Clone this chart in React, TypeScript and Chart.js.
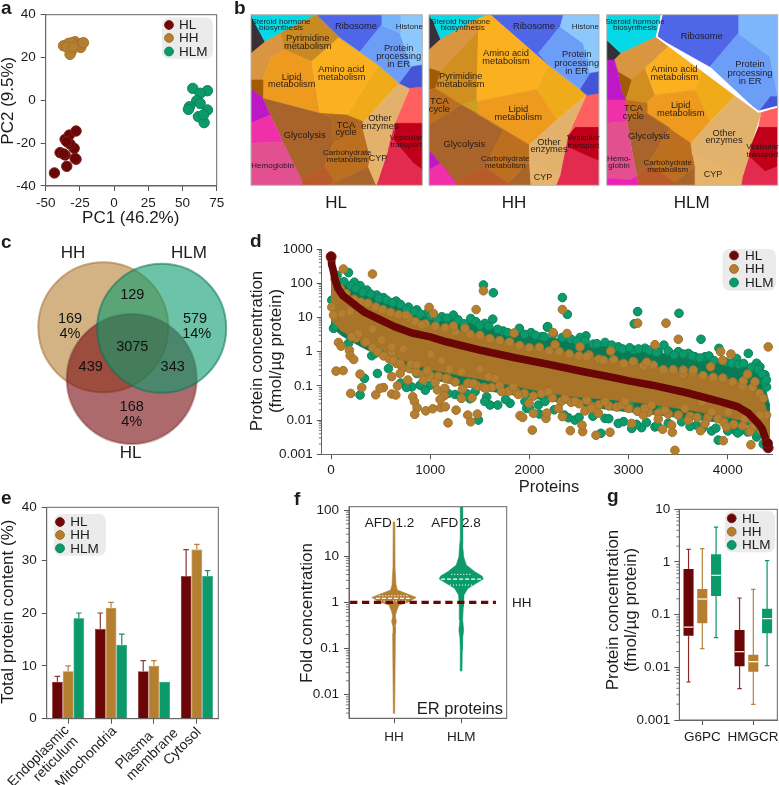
import React, { useEffect, useRef } from "react";
import { Chart, registerables } from "chart.js";

Chart.register(...registerables);
Chart.defaults.font.family = '"Liberation Sans", Arial, sans-serif';

const PAGE_W = 779;
const PAGE_H = 785;
const HL = "#6b0606";
const HH = "#b47f30";
const HLM = "#0a9a6b";
const HL_EDGE = "#7e1c1c";
const HH_EDGE = "#a3722b";
const HLM_EDGE = "#0b8259";
const seriesNames = ["HL", "HH", "HLM"];
const seriesFill = [HL, HH, HLM];
const seriesEdge = [HL_EDGE, HH_EDGE, HLM_EDGE];

// ---------- a: PCA ----------
const pcaHL = [[-43.6,-33.9],[-34.6,-30.8],[-27.8,-27.5],[-28.5,-27.1],[-35.8,-25.5],[-39.5,-24.4],[-37,-25],[-29.2,-22.4],[-32.2,-20.4],[-35.8,-18.2],[-32.7,-16.2],[-27.8,-14.3],[-34.6,-19.3]];
const pcaHH = [[-37,25.5],[-33.4,26.6],[-28.5,27.4],[-23.6,26.6],[-31.4,22.7],[-32.2,21.5],[-24.4,24.7],[-27.3,25.8],[-30.9,26.9],[-34.6,25],[-22.4,26.9],[-29.7,25]];
const pcaHLM = [[57.5,5.6],[68.2,4.5],[62.9,3.3],[60.4,-0.2],[62.9,-1.4],[55.1,-3],[54.3,-4.2],[68.2,-4.5],[61.6,-7.6],[65.8,-10.4],[65.3,-6.8]];
const pcaXTicks = [-50, -25, 0, 25, 50, 75];
const pcaYTicks = [-40, -20, 0, 20, 40];

// ---------- b: proteomaps ----------
const hlCellColors = ["#3a3038","#06d9e6","#d9953f","#c98a22","#ee9a1f","#fbb01f","#f0ab1a","#a35a05","#a8642a","#b0691e","#bc6f1e","#a8642a","#b85a2a","#e2b26c","#e5b36a","#bd18c5","#ef30a8","#e2508f","#4f66e8","#6c9ef8","#8cc8fb","#4455d8","#73b4fa","#ff5f5f","#c00018","#e32a4f"];
const hlCellPoints = [
  [[33,44],[33,160],[75,125],[40,60]],
  [[33,44],[230,44],[120,100],[75,125],[40,60]],
  [[75,125],[120,100],[135,150],[95,170],[68,240],[33,240],[33,160]],
  [[120,100],[230,44],[298,112],[215,185],[135,150]],
  [[95,170],[135,150],[215,185],[240,340],[70,295],[68,240]],
  [[215,185],[298,112],[415,195],[320,345],[240,340]],
  [[415,195],[478,250],[370,365],[320,345]],
  [[33,240],[68,240],[68,295],[33,265]],
  [[68,295],[240,340],[275,350],[280,430],[255,500],[185,540],[130,430]],
  [[240,340],[320,345],[370,365],[368,385],[280,430],[275,350]],
  [[280,430],[368,385],[390,470],[385,500],[285,548],[255,500]],
  [[285,548],[385,500],[408,556],[265,556]],
  [[185,540],[255,500],[285,548],[265,556],[185,556]],
  [[478,250],[510,265],[465,370],[445,450],[390,470],[368,380],[370,365]],
  [[390,470],[445,450],[410,556],[385,500]],
  [[33,240],[33,265],[68,295],[91,345],[33,370]],
  [[33,370],[91,345],[128,425],[33,430]],
  [[33,430],[128,425],[185,540],[185,556],[33,556]],
  [[230,44],[425,44],[425,75],[360,155],[298,112]],
  [[360,155],[425,75],[480,100],[515,200],[478,250],[415,195],[298,112]],
  [[480,44],[547,44],[547,200],[515,200],[480,100]],
  [[515,200],[547,195],[547,262],[510,265],[478,250]],
  [[425,44],[480,44],[480,100],[425,75]],
  [[510,265],[547,262],[547,370],[465,370]],
  [[465,370],[547,370],[547,510],[520,490],[460,420]],
  [[445,450],[465,370],[460,420],[520,490],[547,510],[547,556],[410,556]],
];
const hhCellColors = ["#3a3038","#06d9e6","#d9953f","#d18f20","#a35a05","#fbb01f","#f0ab1a","#ee9a1f","#bc6f1e","#c9a020","#a8642a","#bc6f1e","#a8642a","#b85a2a","#bd18c5","#ef30a8","#e2b26c","#e5b36a","#e32a4f","#c00018","#ff5f5f","#4f66e8","#6c9ef8","#8cc8fb","#4455d8"];
const hhCellPoints = [
  [[27,44],[27,150],[62,118],[40,65]],
  [[27,44],[212,44],[175,55],[62,118],[40,65]],
  [[27,150],[62,118],[175,55],[175,100],[60,215],[27,205]],
  [[60,215],[175,95],[170,300],[125,315],[45,265],[52,225]],
  [[27,205],[60,215],[45,265],[27,270]],
  [[175,55],[212,44],[385,195],[350,268],[170,305]],
  [[385,195],[500,285],[410,360],[350,268]],
  [[170,305],[350,268],[410,360],[328,435],[170,340]],
  [[27,270],[45,265],[125,315],[27,375]],
  [[125,315],[170,300],[170,340],[150,335]],
  [[27,375],[125,315],[250,390],[195,500],[105,545],[27,450]],
  [[125,315],[170,340],[328,435],[328,485],[265,550],[195,500],[250,390]],
  [[265,550],[328,485],[332,556],[265,556]],
  [[105,545],[195,500],[265,550],[265,556],[105,556]],
  [[27,450],[105,545],[62,490],[27,510]],
  [[27,510],[62,490],[105,545],[105,556],[27,556]],
  [[500,285],[445,405],[420,530],[328,490],[328,435],[410,360]],
  [[328,490],[420,530],[410,556],[332,556]],
  [[445,405],[537,470],[537,556],[410,556],[420,530]],
  [[465,380],[537,380],[537,480],[510,470],[445,440],[445,405]],
  [[500,285],[537,280],[537,380],[465,380],[445,405]],
  [[212,44],[430,44],[420,80],[355,160],[385,195]],
  [[355,160],[420,80],[490,130],[510,220],[480,268],[385,195]],
  [[430,44],[537,44],[537,215],[510,220],[490,130],[420,80]],
  [[510,220],[537,215],[537,280],[500,285],[480,268]],
];
const hlmCellColors = ["#333036","#06d9e6","#d9953f","#a35a05","#d18f20","#fbb01f","#f0ab1a","#ee9a1f","#bc6f1e","#a8642a","#bc6f1e","#a8642a","#b85a2a","#bd18c5","#ef30a8","#e2508f","#ee20b5","#e2b26c","#e5b36a","#c00018","#e32a4f","#ff5f5f","#4f66e8","#6c9ef8","#7db6fa","#4455d8"];
const hlmCellPoints = [
  [[35,120],[78,160],[58,180],[35,180]],
  [[35,44],[200,44],[185,110],[78,160],[35,120]],
  [[58,180],[78,160],[185,110],[220,140],[150,205],[110,240],[68,215]],
  [[68,215],[110,240],[92,300],[80,275]],
  [[110,240],[150,205],[180,285],[155,310],[92,300]],
  [[150,205],[220,140],[320,215],[300,270],[180,285]],
  [[220,140],[185,110],[420,288],[345,365],[300,270],[320,215]],
  [[180,285],[300,270],[345,365],[288,430],[155,340],[155,310]],
  [[92,300],[155,310],[155,340],[95,365]],
  [[95,365],[155,340],[225,385],[160,490],[125,530]],
  [[155,340],[288,430],[292,460],[300,500],[240,548],[160,490],[225,385]],
  [[240,548],[300,500],[302,556],[240,556]],
  [[125,530],[160,490],[240,548],[240,556],[130,556]],
  [[35,180],[58,180],[68,215],[80,275],[92,300],[78,300],[35,300]],
  [[35,300],[78,300],[92,300],[95,365],[35,370]],
  [[35,370],[95,365],[125,530],[105,540],[35,535]],
  [[35,535],[105,540],[125,530],[130,556],[35,556]],
  [[420,288],[498,338],[470,430],[462,470],[445,525],[292,465],[288,430],[345,365]],
  [[292,460],[445,525],[440,556],[302,556],[300,500]],
  [[490,380],[548,380],[548,500],[510,515],[462,470],[470,430]],
  [[462,470],[510,515],[548,500],[548,556],[440,556],[445,525]],
  [[498,338],[548,320],[548,380],[490,380]],
  [[200,44],[430,44],[430,100],[345,200],[185,110]],
  [[345,200],[430,100],[525,170],[548,290],[525,290],[490,335]],
  [[430,44],[548,44],[548,290],[525,170],[430,100]],
  [[525,290],[548,290],[548,320],[490,335]],
];
const hlmDivide = [[200,44],[185,110],[490,335],[548,320]];
const hlLabels: [string, number, number, number][] = [
  ["Steroid hormone",123,65,8],["biosynthesis",123,84,8],["Pyrimidine",203,116,9.3],["metabolism",203,139,9.3],["Ribosome",348,80,9.3],["Histone",508,80,8],
  ["Protein",476,145,9.3],["processing",476,170,9.3],["in ER",476,194,9.3],["Amino acid",304,209,9.3],["metabolism",305,232,9.3],["Lipid",155,232,9.3],["metabolism",155,254,9.3],
  ["Other",420,356,9.3],["enzymes",420,379,9.3],["TCA",318,376,9.3],["cycle",318,398,9.3],["Glycolysis",194,405,9.3],["Vesicular",498,412,8],["transport",498,433,8],
  ["Carbohydrate",322,458,8],["metabolism",322,479,8],["CYP",414,477,9],["Hemoglobin",98,496,8],
];
const hhLabels: [string, number, number, number][] = [
  ["Steroid hormone",122,65,8],["biosynthesis",128,84,8],["Ribosome",342,80,9.3],["Histone",496,80,8],["Protein",470,164,9.3],["processing",470,189,9.3],["in ER",470,213,9.3],
  ["Amino acid",258,161,9.3],["metabolism",258,184,9.3],["Pyrimidine",122,229,9.3],["metabolism",122,252,9.3],["TCA",58,305,9.3],["cycle",58,328,9.3],["Lipid",295,329,9.3],["metabolism",295,351,9.3],
  ["Glycolysis",133,433,9.3],["Other",387,426,9.3],["enzymes",387,449,9.3],["Vesicular",490,414,8],["transport",490,436,8],["Carbohydrate",256,475,8],["metabolism",256,497,8],["CYP",369,533,9],
];
const hlmLabels: [string, number, number, number][] = [
  ["Steroid hormone",120,65,8],["biosynthesis",120,84,8],["Ribosome",320,110,9.3],["Protein",465,194,9.3],["processing",465,219,9.3],["in ER",465,244,9.3],["Amino acid",238,208,9.3],["metabolism",238,231,9.3],
  ["Lipid",257,316,9.3],["metabolism",257,339,9.3],["TCA",115,325,9.3],["cycle",115,348,9.3],["Glycolysis",162,410,9.3],["Other",387,399,9.3],["enzymes",387,422,9.3],["Vesicular",502,441,8],["transport",502,463,8],
  ["Carbohydrate",218,487,8],["metabolism",218,508,8],["CYP",354,524,9],["Hemo-",72,476,8],["globin",72,497,8],
];

// ---------- c: Venn ----------
const vennHH = { x: 36.65, y: 61.35, r: 65 };
const vennHLM = { x: 65.85, y: 60.85, r: 64.5 };
const vennHL = { x: 50.85, y: 35.5, r: 65 };

// ---------- d: protein concentration ----------
const dXTicks = [0, 1000, 2000, 3000, 4000];
const dYTicks = [0.001, 0.01, 0.1, 1, 10, 100, 1000];
const hlRank = [0,3,8,17,40,70,120,225,340,468,640,814,1000,1160,1507,1854,2200,2547,2893,3000,3240,3586,3933,4100,4210,4307,4348,4391,4407];
const hlConc = [597,500,350,270,130,70,43,25,14,9.3,5.4,3.5,2.7,1.94,1.1,0.66,0.42,0.257,0.164,0.14,0.105,0.063,0.034,0.0245,0.0158,0.008,0.0055,0.0023,0.00155];
const hlEnds = [[0,597],[4407,0.00155],[4400,0.0021]];
const bandRank = [0,50,100,200,300,500,700,1000,1300,1600,2000,2400,2800,3200,3600,4000,4200,4350,4420];
const hlmBandTop = [300,200,130,85,60,36,24,11.5,8,5.2,3.2,2.1,1.4,1,0.75,0.5,0.38,0.18,0.03];
const hlmBandBottom = [5,4,3,2,1.4,0.7,0.3,0.16,0.1,0.07,0.045,0.03,0.02,0.015,0.011,0.008,0.007,0.005,0.003];
const hhBandTop = [200,110,70,38,28,18,12,6,4,2.6,1.4,0.9,0.6,0.4,0.23,0.16,0.1,0.05,0.01];
const hhBandBottom = [8,6,4,2.8,2.2,1.2,0.6,0.3,0.2,0.14,0.08,0.05,0.04,0.03,0.02,0.012,0.009,0.006,0.003];
const hhSpots = [[124,260],[417,186],[1536,60],[1462,17],[988,19.7],[1032,13],[756,11.5],[1233,5.6],[1350,4.8],[914,6],[1845,3.5],[7,20],[24,11.7],[108,13],[192,14.8],[74,1.86],[101,1.45],[185,1.1],[192,0.76],[228,0.59],[50,0.27],[121,0.28],[292,0.22],[309,0.089],[198,0.06],[450,0.055],[528,0.089],[611,0.058],[652,0.054],[669,0.1],[494,0.085],[611,0.186],[696,0.23],[773,0.148],[971,0.28],[931,0.148],[1048,0.126],[1072,0.076],[1146,0.085],[1139,0.051],[823,0.048],[840,0.035],[867,0.023],[843,0.0147],[954,0.0186],[1025,0.0214],[1105,0.023],[1152,0.0245],[1099,0.04],[1260,0.0195],[1179,0.0083],[1378,0.014],[1408,0.0089],[1475,0.015],[1314,0.043],[1421,0.045],[1559,0.085],[1324,0.081],[1435,0.117],[1653,0.166],[1720,0.068],[1838,0.094],[1888,0.056],[1905,0.0135],[1932,0.012],[1996,0.031],[2040,0.0158],[2029,0.0051],[2167,0.0112],[628,0.56],[611,1],[696,0.46],[729,1.2],[806,0.43],[864,0.41],[1005,0.83],[1116,0.56],[1193,0.31],[1159,0.166],[1317,0.26],[1502,0.31],[1586,0.186],[353,1.95],[511,2.2],[276,3.4],[417,4.6],[208,2.75],[611,1.38],
  [2332,17],[2379,3.4],[2238,3.6],[2258,1.6],[3091,6.8],[3377,6.8],[3501,2.3],[3266,1.6],[4408,1.38],[2819,1.04],[3928,1],[4032,0.85],[3948,0.56],[3827,0.36],[3854,0.178],[3652,0.29],[3551,0.29],[3182,0.49],[3047,0.51],[2745,0.56],[2510,1.38],[2577,0.71],[4156,0.138],[4274,0.132],[4200,0.22],[4358,0.043],[4391,0.014],[2412,0.0049],[2537,0.0046],[2671,0.0036],[2812,0.0044],[2530,0.0071],[2332,0.0126],[2174,0.016],[2560,0.0186],[2695,0.016],[2930,0.0275],[3031,0.008],[3148,0.014],[3299,0.0107],[3343,0.0054],[3434,0.0071],[3441,0.0044],[3467,0.0013],[3602,0.01],[3726,0.0049],[3770,0.008],[3955,0.0025],[3988,0.0063],[4233,0.0019],[4223,0.0046],[4324,0.014],[4139,0.022],[3837,0.0174],[3367,0.0195],[3165,0.022],[2762,0.035],[2627,0.022],[2459,0.035],[2291,0.022],[2191,0.068],[2359,0.043],[2577,0.038],[2963,0.035],[3232,0.0275],[3568,0.022],[3736,0.035],[4005,0.0174],[4173,0.0112]];
const hhUpperEdge = [[40,130],[90,70],[150,50],[230,34],[300,28],[370,26],[450,20],[520,17],[600,14],[680,12],[780,10],[850,7.5],[950,6.5],[1050,5.5],[1150,5],[1250,3.8],[1400,3.2],[1500,3],[1600,2.4],[1700,2.1],[1800,1.9],[1900,1.5],[2000,1.3],[2100,1.35],[2200,1.05],[2300,1],[2400,0.85],[2500,0.75],[2600,0.8],[2700,0.6],[2850,0.58],[2950,0.45],[3050,0.5],[3150,0.38],[3250,0.4],[3350,0.3],[3450,0.3],[3550,0.22],[3650,0.25],[3750,0.2],[3850,0.16],[3950,0.17],[4050,0.13],[4150,0.1],[4250,0.09],[4320,0.06]];
const hhLowerEdge = [[250,2.5],[340,1.9],[420,1.3],[470,1],[530,0.75],[590,0.6],[660,0.45],[720,0.33],[790,0.32],[860,0.25],[930,0.21],[1000,0.2],[1080,0.19],[1180,0.16],[1250,0.13],[1380,0.12],[1470,0.1],[1540,0.09],[1620,0.09],[1700,0.1],[1790,0.07],[1870,0.065],[1950,0.06],[2040,0.05],[2120,0.06],[2230,0.045],[2320,0.035],[2420,0.033],[2500,0.03],[2630,0.025],[2700,0.028],[2800,0.026],[2880,0.024],[3000,0.022],[3090,0.018],[3200,0.017],[3300,0.016],[3400,0.015],[3500,0.014],[3620,0.013],[3690,0.012],[3800,0.012],[3900,0.011],[3960,0.0085],[4060,0.0075],[4150,0.0068],[4250,0.0062],[4340,0.005]];
const hlmSpots = [[175,204],[1536,89],[1636,52.5],[292,85],[235,107],[360,63],[460,45],[527,38],[655,30],[780,20],[864,16.6],[964,13],[1116,10.5],[1233,11.7],[1408,9.3],[1552,6.7],[1630,8.9],[1737,4],[1898,4.8],[2016,3.6],[2181,5.2],[2124,2.75],[24,4.8],[40,5.6],[141,5.4],[175,1.74],[336,0.166],[467,0.23],[292,0.054],[410,0.76],[444,0.89],[561,1],[578,0.32],[813,0.093],[897,0.105],[998,0.105],[864,0.23],[1065,0.186],[1250,0.056],[1368,0.06],[1485,0.01],[1603,0.0275],[1680,0.0275],[1804,0.031],[1972,0.022],[2090,0.0275],[1955,0.035],[1569,0.048],[1452,0.068],[1871,0.068],[2140,0.048],[326,6],[259,6],[124,7.4],[427,1.95],[7,32],
  [2332,38],[2382,12.3],[2184,5.4],[2570,2.9],[2510,2.6],[3091,14.8],[3057,6.5],[3508,13.2],[3730,2.3],[3356,1.55],[3911,1.25],[4207,0.89],[4291,0.46],[4324,0.36],[4391,0.093],[4375,0.21],[4375,0.13],[2762,1.86],[2644,1.66],[2896,1.38],[3047,1.12],[3165,1.26],[3299,1],[3501,1],[3602,0.89],[3770,0.71],[4089,0.63],[4123,0.41],[3669,0.71],[2392,0.0117],[2459,0.01],[2721,0.0041],[2896,0.008],[3031,0.0057],[3131,0.006],[3266,0.0063],[3686,0.0071],[3837,0.0048],[3904,0.0026],[4123,0.0048],[4291,0.0032],[4358,0.002],[4072,0.0051],[3535,0.0089],[2762,0.0112],[2594,0.035],[3014,0.0275],[3333,0.022],[3971,0.0112],[4223,0.0089],[2157,0.035]];
const hlmUpperEdge = [[60,170],[130,110],[200,85],[250,70],[320,55],[400,48],[480,36],[560,32],[620,27],[700,24],[760,17],[840,15],[900,12.5],[1000,11],[1070,9],[1170,9.5],[1280,8.5],[1340,6.5],[1460,7.5],[1500,5.8],[1590,5.5],[1680,4.5],[1780,3.6],[1850,3.4],[1950,3.2],[2060,3],[2150,2.7],[2240,3.3],[2330,2.6],[2420,2.3],[2480,2],[2560,2.1],[2680,1.7],[2830,1.55],[2940,1.2],[3010,1.3],[3100,1.2],[3210,1.1],[3280,0.95],[3400,1.05],[3460,0.8],[3550,0.85],[3640,0.75],[3720,0.65],[3810,0.75],[3860,0.55],[3980,0.5],[4040,0.45],[4110,0.42],[4160,0.45],[4240,0.35],[4310,0.3],[4350,0.22],[4390,0.15]];
const hlmLowerEdge = [[700,0.12],[760,0.09],[950,0.075],[1180,0.06],[1300,0.05],[1400,0.042],[1550,0.035],[1760,0.04],[2000,0.022],[2100,0.015],[2250,0.02],[2350,0.014],[2500,0.012],[2640,0.013],[2800,0.011],[2950,0.009],[3080,0.0075],[3180,0.0085],[3290,0.007],[3400,0.0082],[3620,0.0065],[3750,0.006],[3880,0.0058],[4000,0.0048],[4100,0.0042],[4200,0.0045],[4300,0.004]];

// ---------- e: compartments ----------
const compartments = ["Endoplasmic reticulum", "Mitochondria", "Plasma membrane", "Cytosol"];
const compartmentLabels: [string, number, number][] = [["Endoplasmic",67,728],["reticulum",76,739],["Mitochondria",114.5,729],["Plasma",151,734],["membrane",176,731],["Cytosol",199,730]];
const eTicks = [0, 10, 20, 30, 40];
const contentHL = [7, 17, 9, 27];
const contentHH = [9, 21, 10, 32];
const contentHLM = [19, 14, 7, 27];
const errorTopHL = [8, 20, 11, 32];
const errorTopHH = [10, 22, 11, 33];
const errorTopHLM = [20, 16, null, 28];

// ---------- f: violins ----------
const fYTicks = [0.01, 0.1, 1, 10, 100];
const fXTicks = [1, 2];
const fXNames = ["HH", "HLM"];
const hhViolinFold = [55.9,5.9,2.37,1.85,1.57,1.28,1.03,0.875,0.628,0.506,0.38,0.297,0.213,0.00395];
const hhViolinWidth = [0.012,0.015,0.03,0.05,0.173,0.33,0.223,0.074,0.035,0.02,0.035,0.015,0.02,0.01];
const hlmViolinFold = [118,22.4,17.4,9.75,6.44,4.62,3.72,3.2,2.58,2.01,1.44,0.806,0.414,0.252,0.166,0.0928,0.0325];
const hlmViolinWidth = [0.015,0.015,0.025,0.035,0.074,0.2,0.307,0.327,0.223,0.1,0.04,0.03,0.02,0.035,0.02,0.015,0.01];
const hhQuartiles = [[1.39,0.22],[1.22,0.27],[1.07,0.2]];
const hlmQuartiles = [[4.04,0.15],[3.2,0.3],[2.37,0.17]];
const referenceLine = [[0.347,1],[2.515,1]];

// ---------- g: box plots ----------
const gXTicks = [1, 2];
const gXNames = ["G6PC", "HMGCR"];
const gYTicks = [0.001, 0.01, 0.1, 1, 10];
const gPosHL = [0.73, 1.73];
const gPosHH = [1, 2];
const gPosHLM = [1.27, 2.27];
const gMaxHL = [1.74, 0.207];
const gMaxHH = [1.79, 0.303];
const gMaxHLM = [4.6, 1.06];
const gQ3HL = [0.726, 0.0504];
const gQ3HH = [0.303, 0.0171];
const gQ3HLM = [1.38, 0.128];
const gMedHL = [0.058, 0.0198];
const gMedHH = [0.198, 0.0128];
const gMedHLM = [0.558, 0.084];
const gQ1HL = [0.0405, 0.0106];
const gQ1HH = [0.0695, 0.0084];
const gQ1HLM = [0.229, 0.0449];
const gMinHL = [0.00527, 0.00394];
const gMinHH = [0.0226, 0.00198];
const gMinHLM = [0.0366, 0.0108];

// ---------- helpers ----------
const xy = (pairs: any[]) => pairs.map(([x, y]) => ({ x, y }));
const paint = (ds: any[]) => ds.map((d, i) => ({ ...d, order: ds.length - i }));
const pad = (l: number, t: number, r: number, b: number) => ({ left: l, top: t, right: PAGE_W - r, bottom: PAGE_H - b });

function text(ctx: any, s: string, x: number, y: number, o: any = {}) {
  ctx.save();
  ctx.translate(x, y);
  if (o.rot) ctx.rotate(o.rot);
  ctx.font = `${o.bold ? "bold " : ""}${o.size || 17}px "Liberation Sans", Arial, sans-serif`;
  ctx.fillStyle = o.color || "#1c1c1c";
  ctx.textAlign = o.align || "center";
  ctx.textBaseline = "middle";
  ctx.fillText(s, 0, 0);
  ctx.restore();
}
function frame(chart: any) {
  const { ctx, chartArea: a } = chart;
  ctx.save();
  ctx.strokeStyle = "#666";
  ctx.lineWidth = 1;
  ctx.strokeRect(a.left, a.top, a.right - a.left, a.bottom - a.top);
  ctx.restore();
}
function legend(ctx: any, x0: number, y0: number, x1: number, y1: number, mx: number, ys: number[], tx: number) {
  ctx.save();
  ctx.fillStyle = "#ebebeb";
  ctx.beginPath();
  ctx.roundRect(x0, y0, x1 - x0, y1 - y0, 7);
  ctx.fill();
  ys.forEach((y, i) => {
    ctx.fillStyle = seriesFill[i];
    ctx.strokeStyle = seriesEdge[i];
    ctx.lineWidth = 1;
    ctx.beginPath();
    ctx.arc(mx, y, 4.4, 0, Math.PI * 2);
    ctx.fill();
    ctx.stroke();
    text(ctx, seriesNames[i], tx, y + 0.5, { size: 13.5, align: "left" });
  });
  ctx.restore();
}
function minorLogTicks(chart: any) {
  const { ctx, scales, chartArea } = chart;
  const s = scales.y;
  ctx.save();
  ctx.strokeStyle = "#555";
  ctx.lineWidth = 0.8;
  for (let d = -4; d < 4; d++) {
    for (const m of [2, 3, 4, 5, 6, 7, 8, 9]) {
      const v = m * Math.pow(10, d);
      if (v < s.min || v > s.max) continue;
      const y = s.getPixelForValue(v);
      ctx.beginPath();
      ctx.moveTo(chartArea.left - 3, y);
      ctx.lineTo(chartArea.left, y);
      ctx.stroke();
    }
  }
  ctx.restore();
}
function axis(type: string, min: number | undefined, max: number | undefined, tickValues: number[] | null, padding: number, position: string, showLabels = true) {
  const o: any = {
    type, position, min, max,
    ticks: { display: showLabels, autoSkip: false, maxRotation: 0, minRotation: 0, padding, color: "#1c1c1c", font: { size: 13.5 } },
    grid: { drawOnChartArea: false, tickLength: 5, tickColor: "#555", offset: false },
    border: { color: "#666", width: 1 },
  };
  if (tickValues) {
    o.afterBuildTicks = (s: any) => { s.ticks = tickValues.map((value) => ({ value })); };
    o.ticks.callback = (v: any) => String(v);
  }
  return o;
}
const hidden = (min: number, max: number, reverse = false) => ({ type: "linear", display: false, min, max, reverse });
// The visible axes are given boxes that reach the canvas edge, so that their labels are not clipped.
const base = (padding: any, scales: any, draw?: (chart: any) => void) => {
  const visible = scales.x.display !== false;
  if (visible) {
    scales.x.afterFit = (s: any) => { s.height = padding.bottom; s.paddingLeft = 0; s.paddingRight = 0; };
    scales.y.afterFit = (s: any) => { s.width = padding.left; s.paddingTop = 0; s.paddingBottom = 0; };
  }
  return {
    options: {
      responsive: false, animation: false, events: [],
      layout: { autoPadding: false, padding: visible ? { ...padding, left: 0, bottom: 0 } : padding },
      plugins: { legend: { display: false }, tooltip: { enabled: false }, title: { display: false } },
      scales,
    },
    plugins: draw ? [{ id: "overlay", afterDatasetsDraw: (chart: any) => draw(chart) }] : [],
  };
};
const dots = (pairs: any[], fill: string, edge: string, r: number) => ({
  type: "line", data: xy(pairs), showLine: false, pointRadius: r, pointBackgroundColor: fill, pointBorderColor: edge, pointBorderWidth: 1, clip: false,
});
const poly = (points: any[], color: string) => ({
  type: "line", data: points, fill: "shape", backgroundColor: color, borderColor: color, borderWidth: 0.6, pointRadius: 0, tension: 0,
});
const band = (xs: number[], top: number[], bottom: number[], color: string) =>
  poly([...xs.map((x, i) => ({ x, y: top[i] })), ...xs.map((x, i) => ({ x, y: bottom[i] })).reverse()], color);
const violin = (c: number, fold: number[], w: number[], color: string) =>
  poly([...fold.map((y, i) => ({ x: c + w[i], y })), ...fold.map((y, i) => ({ x: c - w[i], y })).reverse()], color);
const seg = (c: number, q: number[], dash: number[], width: number) => ({
  type: "line", data: [{ x: c - q[1], y: q[0] }, { x: c + q[1], y: q[0] }], borderColor: "#fff", borderWidth: width, borderDash: dash, pointRadius: 0,
});

// ---------- panel configs ----------
const panelA = () => ({
  type: "line",
  data: { datasets: paint([dots(pcaHH, HH, HH_EDGE, 5.2), dots(pcaHLM, HLM, HLM_EDGE, 5.2), dots(pcaHL, HL, HL_EDGE, 5.2)]) },
  ...base(pad(45.7, 14.7, 216.7, 186), { x: axis("linear", -50, 75, pcaXTicks, 4.5, "bottom"), y: axis("linear", -40, 40, pcaYTicks, 5, "left") }, (c) => {
    frame(c);
    legend(c.ctx, 162, 17.5, 213, 59, 169, [25, 38, 51.5], 179);
    text(c.ctx, "a", 1, 9, { bold: true, size: 19, align: "left" });
    text(c.ctx, "PC1 (46.2%)", 130.7, 218);
    text(c.ctx, "PC2 (9.5%)", 8.5, 100.7, { rot: -Math.PI / 2 });
  }),
});

const treemap = (box: number[], cells: any[], colors: string[], labels: any[], caption: string, capX: number, letter: boolean, extra: any[]) => ({
  type: "line",
  data: { datasets: paint([...cells.map((p, i) => poly(xy(p), colors[i])), ...extra]) },
  ...base(pad(box[0], 14.7, box[1], 185.3), { x: hidden(box[2], box[3]), y: hidden(44, 556, true) }, (c) => {
    const { ctx, chartArea: a, scales } = c;
    ctx.save();
    ctx.strokeStyle = "#b5b5b5";
    ctx.lineWidth = 1;
    ctx.strokeRect(a.left, a.top, a.right - a.left, a.bottom - a.top);
    ctx.restore();
    labels.forEach(([s, x, y, size]: any) => text(ctx, s, scales.x.getPixelForValue(x), scales.y.getPixelForValue(y), { size, color: "rgba(25,20,25,0.92)" }));
    text(ctx, caption, capX, 203, { size: 17 });
    if (letter) text(ctx, "b", 234, 9, { bold: true, size: 19, align: "left" });
  }),
});
const divideLine = { type: "line", data: xy(hlmDivide), borderColor: "#fff", borderWidth: 1.8, pointRadius: 0, fill: false };

const panelC = () => ({
  type: "bubble",
  data: {
    datasets: paint([
      { data: [vennHH], backgroundColor: "rgba(181,128,50,0.6)", borderColor: "rgba(160,112,45,0.55)", borderWidth: 2, clip: false },
      { data: [vennHL], backgroundColor: "rgba(122,14,20,0.62)", borderColor: "rgba(110,30,30,0.4)", borderWidth: 2, clip: false },
      { data: [vennHLM], backgroundColor: "rgba(10,155,108,0.6)", borderColor: "rgba(8,115,85,0.55)", borderWidth: 2, clip: false },
    ]),
  },
  ...base(pad(30, 250, 230, 450), { x: hidden(0, 100), y: hidden(0, 100) }, (c) => {
    const t = c.ctx;
    text(t, "c", 1, 243, { bold: true, size: 19, align: "left" });
    text(t, "HH", 73, 253);
    text(t, "HLM", 189, 253);
    text(t, "HL", 130.7, 453);
    const n = { size: 14.5, color: "#111" };
    text(t, "169", 70, 319.3, n);
    text(t, "4%", 70, 334, n);
    text(t, "129", 132.3, 295, n);
    text(t, "579", 195, 319.3, n);
    text(t, "14%", 196.7, 334, n);
    text(t, "3075", 132.3, 347.3, n);
    text(t, "439", 90.7, 367, n);
    text(t, "343", 172.7, 367, n);
    text(t, "168", 131.7, 406.7, n);
    text(t, "4%", 131.7, 422.3, n);
  }),
});

const panelD = () => {
  const hlLine = xy(hlRank.map((x, i) => [x, hlConc[i]]));
  return {
    type: "line",
    data: {
      datasets: paint([
        band(bandRank, hlmBandTop, hlmBandBottom, "#0a7a55"),
        dots(hlmSpots, HLM, HLM_EDGE, 4.3),
        dots(hlmUpperEdge, HLM, HLM_EDGE, 4.3),
        dots(hlmLowerEdge, HLM, HLM_EDGE, 4.3),
        band(bandRank, hhBandTop, hhBandBottom, "#a87428"),
        dots(hhLowerEdge, HH, HH_EDGE, 4.3),
        dots(hhUpperEdge, HH, HH_EDGE, 4.3),
        dots(hhSpots, HH, HH_EDGE, 4.3),
        { type: "line", data: hlLine, borderColor: HL, borderWidth: 7.6, pointRadius: 0, borderCapStyle: "round", borderJoinStyle: "round", clip: false },
        dots(hlEnds, HL, HL_EDGE, 5),
      ]),
    },
    ...base(pad(321.8, 249, 772, 454.3), { x: axis("linear", -94, 4446, dXTicks, 3, "bottom"), y: axis("logarithmic", 0.001, 1000, dYTicks, 4, "left") }, (c) => {
      minorLogTicks(c);
      legend(c.ctx, 722.5, 249, 776, 290.5, 734, [255.5, 269, 282.5], 745);
      text(c.ctx, "d", 250, 242, { bold: true, size: 19, align: "left" });
      text(c.ctx, "Protein concentration", 257.5, 351, { rot: -Math.PI / 2 });
      text(c.ctx, "(fmol/µg protein)", 276, 351, { rot: -Math.PI / 2 });
      text(c.ctx, "Proteins", 549, 487, { size: 16.5 });
    }),
  };
};

const errors = [errorTopHL, errorTopHH, errorTopHLM];
const panelE = () => ({
  type: "bar",
  data: {
    labels: compartments,
    datasets: [contentHL, contentHH, contentHLM].map((data, i) => ({ data, backgroundColor: seriesFill[i], borderColor: seriesEdge[i], borderWidth: 0.6, barPercentage: 1, categoryPercentage: 0.75 })),
  },
  ...base(pad(46.7, 507.3, 218.3, 718.7), {
    x: { ...axis("category", undefined, undefined, null, 1, "bottom", false), offset: true },
    y: axis("linear", 0, 40, eTicks, 5, "left"),
  }, (c) => {
    const { ctx, scales } = c;
    frame(c);
    errors.forEach((tops, i) => {
      const bars = c.getDatasetMeta(i).data;
      ctx.save();
      ctx.strokeStyle = i === 0 ? "#8a3a3a" : i === 1 ? "#b8843a" : "#15906a";
      ctx.lineWidth = 1.2;
      tops.forEach((v: any, j: number) => {
        if (v === null) return;
        const y = scales.y.getPixelForValue(v);
        const y0 = scales.y.getPixelForValue(c.data.datasets[i].data[j]);
        ctx.beginPath();
        ctx.moveTo(bars[j].x, y0);
        ctx.lineTo(bars[j].x, y);
        ctx.moveTo(bars[j].x - 2.8, y);
        ctx.lineTo(bars[j].x + 2.8, y);
        ctx.stroke();
      });
      ctx.restore();
    });
    compartmentLabels.forEach(([s, x, y]) => text(ctx, s, x, y, { size: 14, align: "right", rot: -Math.PI / 4 }));
    legend(ctx, 54, 514, 106, 555.7, 60, [522, 535, 548.3], 70.3);
    text(ctx, "e", 1, 499, { bold: true, size: 19, align: "left" });
    text(ctx, "Total protein content (%)", 8.5, 611.7, { rot: -Math.PI / 2 });
  }),
});

const panelF = () => ({
  type: "line",
  data: {
    datasets: paint([
      violin(1, hhViolinFold, hhViolinWidth, HH),
      violin(2, hlmViolinFold, hlmViolinWidth, HLM),
      seg(1, hhQuartiles[0], [1.2, 1.8], 1),
      seg(1, hhQuartiles[1], [4, 2], 1.3),
      seg(1, hhQuartiles[2], [1.2, 1.8], 1),
      seg(2, hlmQuartiles[0], [1.2, 1.8], 1),
      seg(2, hlmQuartiles[1], [4, 2], 1.3),
      seg(2, hlmQuartiles[2], [1.2, 1.8], 1),
      { type: "line", data: xy(referenceLine), borderColor: HL, borderWidth: 3.4, borderDash: [7.3, 4.6], pointRadius: 0 },
    ]),
  },
  ...base(pad(349, 506.7, 506.7, 718.3), {
    x: axis("linear", 0.331, 2.675, fXTicks, 6, "bottom", false),
    y: axis("logarithmic", 0.00308, 118, fYTicks, 5, "left"),
  }, (c) => {
    frame(c);
    minorLogTicks(c);
    const t = c.ctx;
    fXTicks.forEach((v, i) => text(t, fXNames[i], c.scales.x.getPixelForValue(v), 737, { size: 13.5 }));
    text(t, "f", 294, 500, { bold: true, size: 19, align: "left" });
    text(t, "Fold concentration", 307.5, 613, { rot: -Math.PI / 2 });
    text(t, "AFD 1.2", 389.5, 523.5, { size: 13.5 });
    text(t, "AFD 2.8", 456, 523.5, { size: 13.5 });
    text(t, "ER proteins", 503, 709, { size: 16.5, align: "right" });
    text(t, "HH", 512, 603, { size: 13.5, align: "left" });
  }),
});

const gStats = [
  { pos: gPosHL, max: gMaxHL, q3: gQ3HL, med: gMedHL, q1: gQ1HL, min: gMinHL, line: "#8a2a2a" },
  { pos: gPosHH, max: gMaxHH, q3: gQ3HH, med: gMedHH, q1: gQ1HH, min: gMinHH, line: "#b8843a" },
  { pos: gPosHLM, max: gMaxHLM, q3: gQ3HLM, med: gMedHLM, q1: gQ1HLM, min: gMinHLM, line: "#10936a" },
];
const panelG = () => ({
  type: "bar",
  data: {
    datasets: gStats.map((g, i) => ({
      data: g.pos.map((x, j) => ({ x, y: [g.q1[j], g.q3[j]] })),
      backgroundColor: seriesFill[i], borderWidth: 0, barThickness: 9.4, grouped: false,
    })),
  },
  ...base(pad(679.3, 509.3, 777.3, 720), {
    x: { ...axis("linear", 0.549, 2.47, gXTicks, 5, "bottom", false), offset: false },
    y: axis("logarithmic", 0.001, 10, gYTicks, 4, "left"),
  }, (c) => {
    const { ctx, scales } = c;
    frame(c);
    minorLogTicks(c);
    gXTicks.forEach((v, i) => text(ctx, gXNames[i], Math.min(scales.x.getPixelForValue(v), 753), 737, { size: 13.5 }));
    gStats.forEach((g) => {
      g.pos.forEach((x, j) => {
        const px = scales.x.getPixelForValue(x);
        const Y = (v: number) => scales.y.getPixelForValue(v);
        ctx.save();
        ctx.strokeStyle = g.line;
        ctx.lineWidth = 1.2;
        ctx.beginPath();
        ctx.moveTo(px, Y(g.max[j])); ctx.lineTo(px, Y(g.q3[j]));
        ctx.moveTo(px, Y(g.q1[j])); ctx.lineTo(px, Y(g.min[j]));
        ctx.moveTo(px - 2.2, Y(g.max[j])); ctx.lineTo(px + 2.2, Y(g.max[j]));
        ctx.moveTo(px - 2.2, Y(g.min[j])); ctx.lineTo(px + 2.2, Y(g.min[j]));
        ctx.stroke();
        ctx.strokeStyle = "#fff";
        ctx.lineWidth = 1.2;
        ctx.beginPath();
        ctx.moveTo(px - 4.7, Y(g.med[j])); ctx.lineTo(px + 4.7, Y(g.med[j]));
        ctx.stroke();
        ctx.restore();
      });
    });
    legend(ctx, 725, 510.7, 775, 552.3, 731.7, [518.3, 531.7, 545], 742);
    text(ctx, "g", 607, 497, { bold: true, size: 19, align: "left" });
    text(ctx, "Protein concentration", 613.5, 610, { rot: -Math.PI / 2 });
    text(ctx, "(fmol/µg protein)", 631, 610, { rot: -Math.PI / 2 });
  }),
});

const builders = [
  panelA,
  () => treemap([251, 422.3, 33, 547], hlCellPoints, hlCellColors, hlLabels, "HL", 336, true, []),
  () => treemap([429, 599, 27, 537], hhCellPoints, hhCellColors, hhLabels, "HH", 514, false, []),
  () => treemap([606.7, 777.7, 35, 548], hlmCellPoints, hlmCellColors, hlmLabels, "HLM", 691.7, false, [divideLine]),
  panelC,
  panelD,
  panelE,
  panelF,
  panelG,
];

function Panel({ build }: { build: () => any }) {
  const ref = useRef<HTMLCanvasElement | null>(null);
  useEffect(() => {
    const chart = new Chart(ref.current as any, build());
    return () => chart.destroy();
  }, [build]);
  return <canvas ref={ref} width={PAGE_W} height={PAGE_H} style={{ position: "absolute", left: 0, top: 0, width: PAGE_W, height: PAGE_H }} />;
}

export default function App() {
  return (
    <div style={{ position: "absolute", left: 0, top: 0, width: PAGE_W, height: PAGE_H, background: "#fff", overflow: "hidden" }}>
      {builders.map((b, i) => <Panel key={i} build={b} />)}
    </div>
  );
}
